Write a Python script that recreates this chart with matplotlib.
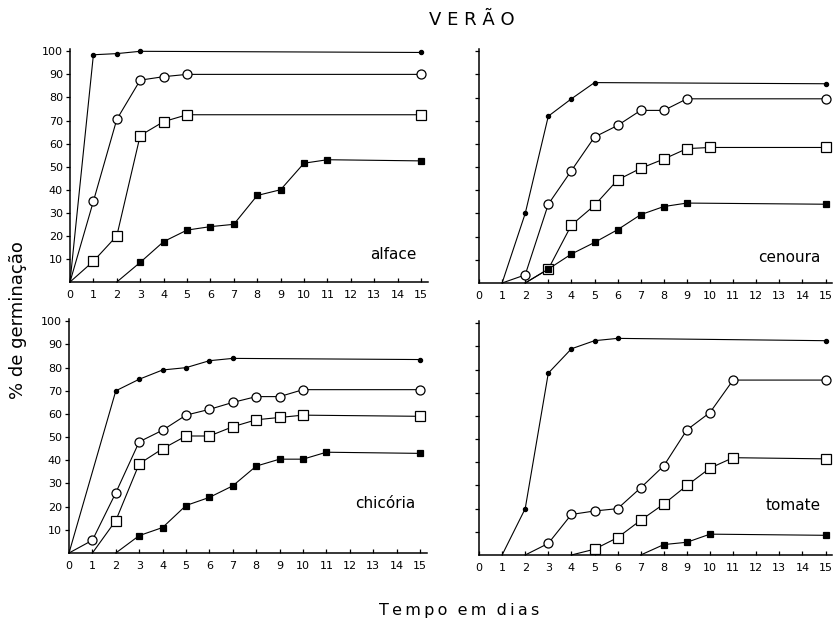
import matplotlib

matplotlib.use("Agg")
import matplotlib.pyplot as plt

W, H = 835, 622

# days / % germination (one list per curve)
ALFACE_DOT_X = [0, 1, 2, 3, 15]
ALFACE_DOT_Y = [0, 98.5, 99, 100, 99.5]
ALFACE_CIRC_X = [0, 1, 2, 3, 4, 5, 15]
ALFACE_CIRC_Y = [0, 35, 70.5, 87.5, 89, 90, 90]
ALFACE_OSQ_X = [0, 1, 2, 3, 4, 5, 15]
ALFACE_OSQ_Y = [0, 9, 20, 63.5, 69.5, 72.5, 72.5]
ALFACE_FSQ_X = [2, 3, 4, 5, 6, 7, 8, 9, 10, 11, 15]
ALFACE_FSQ_Y = [0, 8.5, 17.5, 22.5, 24, 25, 37.5, 40, 51.5, 53, 52.5]

CENOURA_DOT_X = [1, 2, 3, 4, 5, 15]
CENOURA_DOT_Y = [0, 30, 72, 79.5, 86.5, 86]
CENOURA_CIRC_X = [1, 2, 3, 4, 5, 6, 7, 8, 9, 15]
CENOURA_CIRC_Y = [0, 3.5, 34, 48.5, 63, 68, 74.5, 74.5, 79.5, 79.5]
CENOURA_OSQ_X = [2, 3, 4, 5, 6, 7, 8, 9, 10, 15]
CENOURA_OSQ_Y = [0, 6, 25, 33.5, 44.5, 49.5, 53.5, 58, 58.5, 58.5]
CENOURA_FSQ_X = [2, 3, 4, 5, 6, 7, 8, 9, 15]
CENOURA_FSQ_Y = [0, 6, 12.5, 17.5, 23, 29.5, 33, 34.5, 34]

CHICORIA_DOT_X = [0, 2, 3, 4, 5, 6, 7, 15]
CHICORIA_DOT_Y = [0, 70, 75, 79, 80, 83, 84, 83.5]
CHICORIA_CIRC_X = [0, 1, 2, 3, 4, 5, 6, 7, 8, 9, 10, 15]
CHICORIA_CIRC_Y = [0, 5.5, 26, 48, 53, 59.5, 62, 65, 67.5, 67.5, 70.5, 70.5]
CHICORIA_OSQ_X = [1, 2, 3, 4, 5, 6, 7, 8, 9, 10, 15]
CHICORIA_OSQ_Y = [0, 14, 38.5, 45, 50.5, 50.5, 54.5, 57.5, 58.5, 59.5, 59]
CHICORIA_FSQ_X = [2, 3, 4, 5, 6, 7, 8, 9, 10, 11, 15]
CHICORIA_FSQ_Y = [0, 7.5, 11, 20.5, 24, 29, 37.5, 40.5, 40.5, 43.5, 43]

TOMATE_DOT_X = [1, 2, 3, 4, 5, 6, 15]
TOMATE_DOT_Y = [0, 20, 78.5, 89, 92.5, 93.5, 92.5]
TOMATE_CIRC_X = [2, 3, 4, 5, 6, 7, 8, 9, 10, 11, 15]
TOMATE_CIRC_Y = [0, 5, 17.5, 19, 20, 29, 38.5, 54, 61.5, 75.5, 75.5]
TOMATE_OSQ_X = [4, 5, 6, 7, 8, 9, 10, 11, 15]
TOMATE_OSQ_Y = [0, 2.5, 7.5, 15, 22, 30, 37.5, 42, 41.5]
TOMATE_FSQ_X = [7, 8, 9, 10, 15]
TOMATE_FSQ_Y = [0, 4.5, 5.5, 9, 8.5]

PANEL_NAMES = ["alface", "cenoura", "chicória", "tomate"]
X_TICKS = list(range(16))
Y_TICKS = list(range(10, 101, 10))

plt.rcParams.update(
    {
        "font.family": ["DejaVu Sans"],
        "font.size": 8,
        "axes.linewidth": 1.1,
        "axes.spines.top": False,
        "axes.spines.right": False,
    }
)

fig = plt.figure(figsize=(W / 100, H / 100), dpi=100)


def add_panel(left_px, top_px, bottom_px, left_labels, px_per_day=23.4):
    ax = fig.add_axes(
        [left_px / W, 1 - bottom_px / H, 15.3 * px_per_day / W, (bottom_px - top_px) / H]
    )
    ax.set_xlim(0, 15.3)
    ax.set_ylim(0, 101)
    ax.set_xticks(X_TICKS)
    ax.set_yticks(Y_TICKS)
    ax.tick_params(axis="x", direction="in", length=3, width=0.9, pad=6, labelsize=8)
    ax.tick_params(axis="y", direction="out", length=3, width=0.9, pad=2, labelsize=8)
    if not left_labels:
        ax.set_yticklabels([])
    return ax


def draw_curve(ax, xs, ys, marker, ms, face):
    # no marker on the zero point where a curve leaves the axis
    marked = [i for i, v in enumerate(ys) if v > 0]
    ax.plot(
        xs, ys, color="black", lw=0.8, marker=marker, ms=ms,
        mfc=face, mec="black", mew=0.9, markevery=marked, clip_on=False, zorder=3,
    )


def draw_panel(ax, dot, circ, osq, fsq, name, name_y):
    draw_curve(ax, *dot, "o", 3.0, "black")
    draw_curve(ax, *circ, "o", 6.5, "white")
    draw_curve(ax, *osq, "s", 7.0, "white")
    draw_curve(ax, *fsq, "s", 5.0, "black")
    ax.text(14.8, name_y, name, ha="right", va="center", fontsize=11)


ax_tl = add_panel(70, 49, 282, True)
ax_tr = add_panel(479, 49, 283, False, 23.1)
ax_bl = add_panel(69, 319, 553, True)
ax_br = add_panel(479, 321, 555, False, 23.1)

draw_panel(ax_tl, (ALFACE_DOT_X, ALFACE_DOT_Y), (ALFACE_CIRC_X, ALFACE_CIRC_Y),
           (ALFACE_OSQ_X, ALFACE_OSQ_Y), (ALFACE_FSQ_X, ALFACE_FSQ_Y), PANEL_NAMES[0], 12)
draw_panel(ax_tr, (CENOURA_DOT_X, CENOURA_DOT_Y), (CENOURA_CIRC_X, CENOURA_CIRC_Y),
           (CENOURA_OSQ_X, CENOURA_OSQ_Y), (CENOURA_FSQ_X, CENOURA_FSQ_Y), PANEL_NAMES[1], 11)
draw_panel(ax_bl, (CHICORIA_DOT_X, CHICORIA_DOT_Y), (CHICORIA_CIRC_X, CHICORIA_CIRC_Y),
           (CHICORIA_OSQ_X, CHICORIA_OSQ_Y), (CHICORIA_FSQ_X, CHICORIA_FSQ_Y), PANEL_NAMES[2], 21.5)
draw_panel(ax_br, (TOMATE_DOT_X, TOMATE_DOT_Y), (TOMATE_CIRC_X, TOMATE_CIRC_Y),
           (TOMATE_OSQ_X, TOMATE_OSQ_Y), (TOMATE_FSQ_X, TOMATE_FSQ_Y), PANEL_NAMES[3], 21.5)

fig.text(472 / W, 1 - 20 / H, "V E R Ã O", ha="center", va="center", fontsize=13)
fig.text(459 / W, 1 - 610 / H, "T\u2009e\u2009m\u2009p\u2009o  e\u2009m  d\u2009i\u2009a\u2009s",
         ha="center", va="center", fontsize=11.5)
fig.text(18 / W, 1 - 320 / H, "% de germinação", ha="center", va="center",
         rotation=90, fontsize=13)

fig.savefig("out.png", dpi=100)
